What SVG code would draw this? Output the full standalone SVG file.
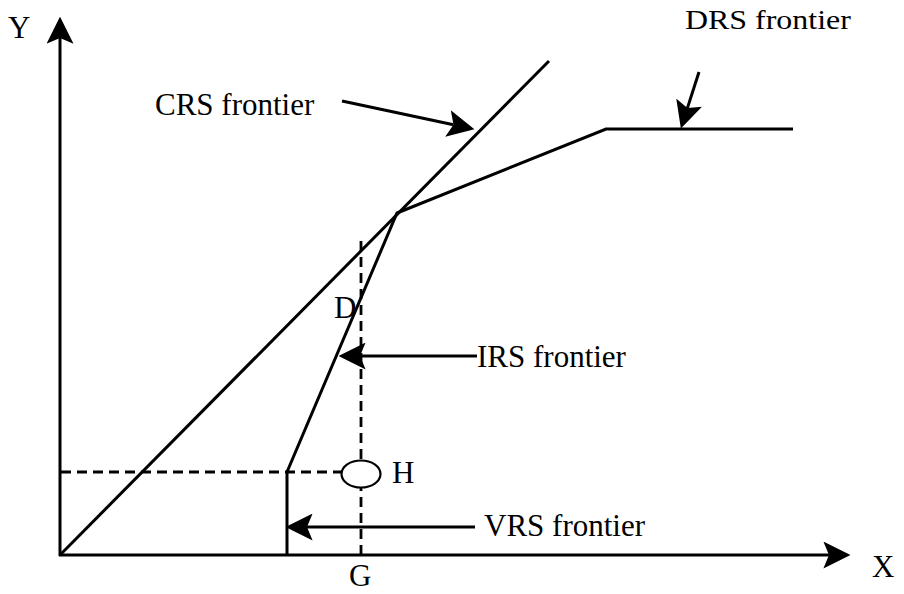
<svg xmlns="http://www.w3.org/2000/svg" width="904" height="594" viewBox="0 0 904 594">
  <style>
    text { font-family: "Liberation Serif", "Times New Roman", serif; font-size: 31px; fill: #000; }
    .ln { fill: none; stroke: #000; stroke-width: 3; stroke-linejoin: miter; }
    .dash { fill: none; stroke: #000; stroke-width: 2.8; stroke-dasharray: 10 6; }
    .arr { fill: none; stroke: #000; stroke-width: 3; marker-end: url(#head); }
  </style>
  <defs>
    <!-- notched arrowhead; the line ends at the notch, the tip sits ~22px beyond -->
    <marker id="head" markerUnits="userSpaceOnUse" markerWidth="27" markerHeight="27"
            viewBox="0 0 24 24" refX="5" refY="12" orient="auto">
      <path d="M0,0 L24,12 L0,24 L5,12 Z" fill="#000"/>
    </marker>
  </defs>

  <g id="axes">
    <path class="arr" d="M60,556 V38"/>
    <path class="arr" d="M59,555 H829"/>
    <text x="8" y="38">Y</text>
    <text x="872" y="577">X</text>
  </g>

  <g id="crs-frontier">
    <path class="ln" d="M60,555 L549,61"/>
  </g>

  <g id="vrs-frontier">
    <path class="ln" d="M287,555 V472 L397,213 L606,129 H793"/>
  </g>

  <g id="projection">
    <path class="dash" d="M61,472 H342"/>
    <path class="dash" d="M361,241 V555"/>
    <ellipse cx="361" cy="474" rx="19.5" ry="13.5" fill="#fff" stroke="#000" stroke-width="2.2"/>
    <text x="334" y="318">D</text>
    <text x="392" y="483">H</text>
    <text x="349" y="586">G</text>
  </g>

  <g id="connectors">
    <path class="arr" d="M342,101 L453.5,124.7"/>
    <path class="arr" d="M699,72 L687.4,108.1"/>
    <path class="arr" d="M477,356 H360"/>
    <path class="arr" d="M475,527 H307"/>
  </g>

  <g id="labels">
    <text x="155" y="115">CRS frontier</text>
    <text transform="translate(685,29) scale(1.03,0.85)">DRS frontier</text>
    <text x="477" y="367">IRS frontier</text>
    <text x="484" y="536">VRS frontier</text>
  </g>
</svg>
